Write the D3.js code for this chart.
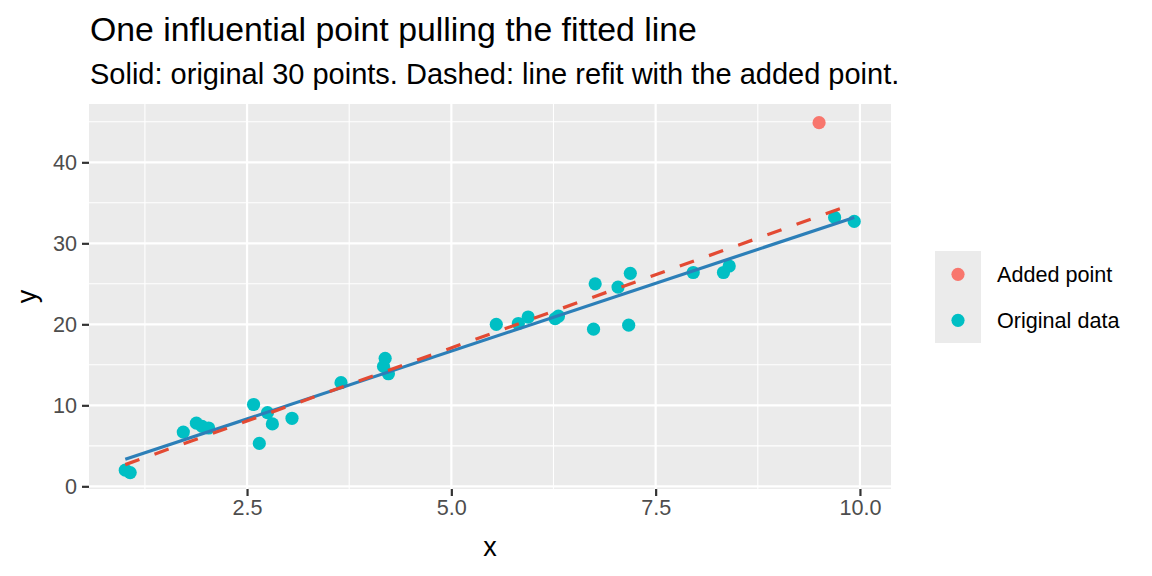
<!DOCTYPE html>
<html>
<head>
<meta charset="utf-8">
<script src="https://cdn.jsdelivr.net/npm/d3@7"></script>
<style>
  body { margin: 0; background: #fff; }
  text { font-family: "Liberation Sans", Arial, sans-serif; }
</style>
</head>
<body>
<svg id="chart" width="1152" height="576"></svg>
<script>
// --- Data ---
const origX = [1.01, 1.07, 1.72, 1.88, 1.95, 2.03, 2.58, 2.65, 2.75, 2.81, 3.05, 3.65, 4.17, 4.19, 4.23,
               5.55, 5.82, 5.94, 6.27, 6.31, 6.74, 6.76, 7.04, 7.17, 7.19, 7.96, 8.33, 8.40, 9.69, 9.93];
const origY = [2.0, 1.7, 6.7, 7.8, 7.4, 7.2, 10.1, 5.3, 9.1, 7.7, 8.4, 12.8, 14.8, 15.8, 13.9,
               20.0, 20.1, 20.9, 20.7, 21.0, 19.4, 25.0, 24.6, 19.9, 26.3, 26.4, 26.4, 27.2, 33.2, 32.7];
const addedX = [9.50];
const addedY = [44.9];
// fitted lines: solid = original 30 points, dashed = refit with the added point
const fitOrigX = [1.01, 9.93], fitOrigY = [3.33, 33.2];
const fitAllX = [1.01, 9.93],  fitAllY = [2.68, 34.9];

const xTicks = [2.5, 5.0, 7.5, 10.0];
const xMinor = [1.25, 3.75, 6.25, 8.75];
const yTicks = [0, 10, 20, 30, 40];
const yMinor = [5, 15, 25, 35, 45];
const legendLabels = ["Added point", "Original data"];
const legendColors = ["#F8766D", "#00BFC4"];

// --- Layout ---
const svg = d3.select("#chart");
const panel = { left: 89, right: 891, top: 104, bottom: 489 };

const x = d3.scaleLinear().domain([0.566, 10.38]).range([panel.left, panel.right]);
const y = d3.scaleLinear().domain([-0.33, 47.2]).range([panel.bottom, panel.top]);

// titles
svg.append("text").attr("x", 90).attr("y", 41)
  .style("font-size", "33.8px").attr("fill", "#000")
  .text("One influential point pulling the fitted line");
svg.append("text").attr("x", 90).attr("y", 83.5)
  .style("font-size", "29px").attr("fill", "#000")
  .text("Solid: original 30 points. Dashed: line refit with the added point.");

// panel background
svg.append("rect")
  .attr("x", panel.left).attr("y", panel.top)
  .attr("width", panel.right - panel.left).attr("height", panel.bottom - panel.top)
  .attr("fill", "#EBEBEB");

const grid = svg.append("g");
// minor grid
grid.selectAll("line.xminor").data(xMinor).join("line")
  .attr("x1", d => x(d)).attr("x2", d => x(d))
  .attr("y1", panel.top).attr("y2", panel.bottom)
  .attr("stroke", "#fff").attr("stroke-width", 1.1);
grid.selectAll("line.yminor").data(yMinor).join("line")
  .attr("x1", panel.left).attr("x2", panel.right)
  .attr("y1", d => y(d)).attr("y2", d => y(d))
  .attr("stroke", "#fff").attr("stroke-width", 1.1);
// major grid
grid.selectAll("line.xmajor").data(xTicks).join("line")
  .attr("x1", d => x(d)).attr("x2", d => x(d))
  .attr("y1", panel.top).attr("y2", panel.bottom)
  .attr("stroke", "#fff").attr("stroke-width", 2.2);
grid.selectAll("line.ymajor").data(yTicks).join("line")
  .attr("x1", panel.left).attr("x2", panel.right)
  .attr("y1", d => y(d)).attr("y2", d => y(d))
  .attr("stroke", "#fff").attr("stroke-width", 2.2);

// axes
const xAxis = svg.append("g")
  .attr("transform", `translate(0,${panel.bottom})`)
  .call(d3.axisBottom(x).tickValues(xTicks).tickFormat(d3.format(".1f")).tickSize(7).tickPadding(4));
const yAxis = svg.append("g")
  .attr("transform", `translate(${panel.left},0)`)
  .call(d3.axisLeft(y).tickValues(yTicks).tickSize(7).tickPadding(5));
[xAxis, yAxis].forEach(a => {
  a.select(".domain").remove();
  a.selectAll(".tick line").attr("stroke", "#333333").attr("stroke-width", 2.2);
  a.selectAll(".tick text").attr("fill", "#4D4D4D")
    .style("font-size", "21.6px").style("font-family", "'Liberation Sans', Arial, sans-serif");
});

// axis titles
svg.append("text").attr("x", (panel.left + panel.right) / 2).attr("y", 556)
  .attr("text-anchor", "middle").style("font-size", "27px").text("x");
svg.append("text")
  .attr("transform", `translate(36,${(panel.top + panel.bottom) / 2}) rotate(-90)`)
  .attr("text-anchor", "middle").style("font-size", "27px").text("y");

// points
const pts = svg.append("g");
pts.selectAll("circle.orig").data(origX.map((d, i) => [d, origY[i]])).join("circle")
  .attr("cx", d => x(d[0])).attr("cy", d => y(d[1])).attr("r", 6.6)
  .attr("fill", legendColors[1]);
pts.selectAll("circle.added").data(addedX.map((d, i) => [d, addedY[i]])).join("circle")
  .attr("cx", d => x(d[0])).attr("cy", d => y(d[1])).attr("r", 6.6)
  .attr("fill", legendColors[0]);

// fitted lines
const line = d3.line().x(d => x(d[0])).y(d => y(d[1]));
svg.append("path")
  .datum(fitOrigX.map((d, i) => [d, fitOrigY[i]]))
  .attr("d", line).attr("fill", "none")
  .attr("stroke", "#2C7FB8").attr("stroke-width", 3.2);
svg.append("path")
  .datum(fitAllX.map((d, i) => [d, fitAllY[i]]))
  .attr("d", line).attr("fill", "none")
  .attr("stroke", "#E34A33").attr("stroke-width", 3.2)
  .attr("stroke-dasharray", "15,16");

// legend
const legend = svg.append("g").attr("transform", "translate(935,251)");
legend.append("rect").attr("width", 46).attr("height", 92).attr("fill", "#EBEBEB");
const items = legend.selectAll("g.item").data(legendLabels).join("g")
  .attr("transform", (d, i) => `translate(0,${i * 46})`);
items.append("circle").attr("cx", 23).attr("cy", 23.3).attr("r", 6.6)
  .attr("fill", (d, i) => legendColors[i]);
items.append("text").attr("x", 62).attr("y", 31)
  .style("font-size", "21.6px").attr("fill", "#000")
  .text(d => d);
</script>
</body>
</html>
